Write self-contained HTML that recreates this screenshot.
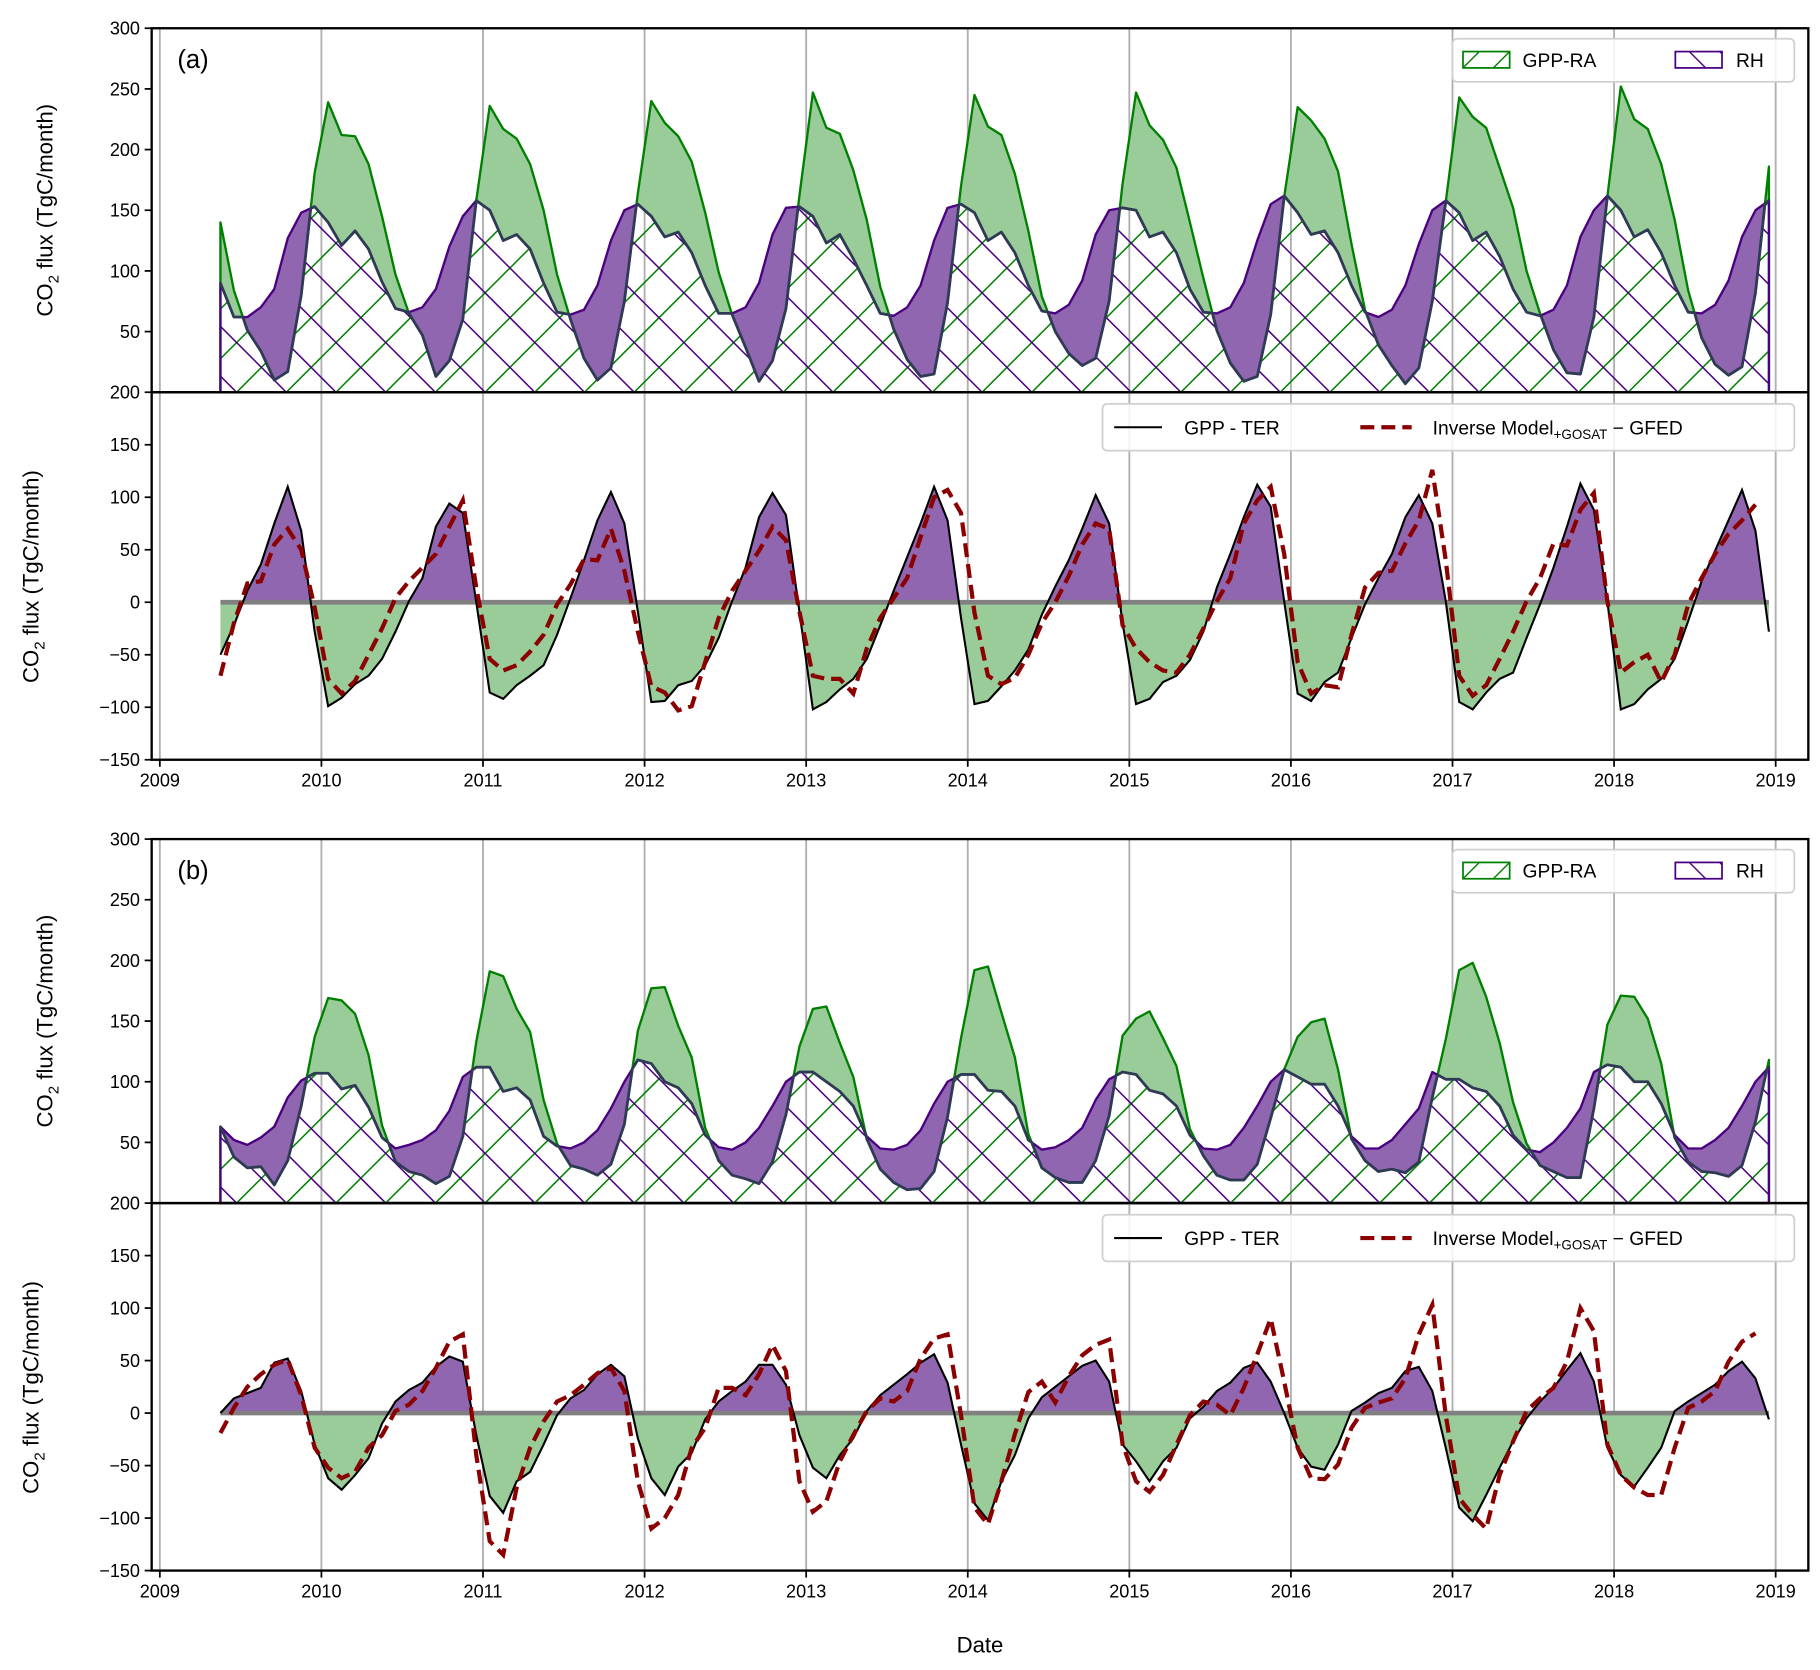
<!DOCTYPE html>
<html><head><meta charset="utf-8"><style>
html,body{margin:0;padding:0;background:#fff;}
svg{display:block;font-family:"Liberation Sans",Arial,sans-serif;}
</style></head><body>
<svg id="fig" width="1820" height="1670" viewBox="0 0 1560 1431" xmlns="http://www.w3.org/2000/svg">
<rect x="0" y="0" width="1560" height="1431" fill="#fff"/>
<defs id="defs"></defs>
<g id="root"></g>
</svg>
<script>
// ---- data (monthly, May 2009 .. Dec 2018) ----
const yearTicks = [2009,2010,2011,2012,2013,2014,2015,2016,2017,2018,2019];
const topTicks = [50,100,150,200,250,300];
const lowTicks = [-150,-100,-50,0,50,100,150,200];
const rhA = [90,62,62,70,85,127,148,153,
140,121,133,118,91,69,66,70,85,120,145,158,
150,125,130,118,90,66,64,68,88,125,150,155,
145,128,132,115,88,65,65,70,90,130,152,153,
145,123,130,110,88,65,63,70,88,125,152,155,
148,125,132,115,88,67,65,72,92,130,150,152,
150,128,132,115,85,66,65,70,90,125,155,162,
148,130,133,115,88,66,62,68,88,122,150,158,
148,125,132,112,85,66,63,68,88,128,150,162,
150,128,134,115,88,66,65,72,92,128,150,158];
const netA = [-50,-22,11,36,75,110,68,-28,
-99,-91,-78,-70,-54,-28,1,23,72,94,85,0,
-86,-92,-79,-70,-60,-31,4,40,78,105,75,-9,
-95,-94,-79,-75,-60,-34,1,33,81,104,83,-9,
-102,-95,-83,-73,-54,-22,11,43,75,110,78,-15,
-97,-94,-80,-65,-45,-12,15,40,70,102,75,-20,
-97,-92,-76,-70,-55,-28,14,46,81,112,91,1,
-87,-94,-76,-67,-34,-2,23,46,81,102,75,1,
-95,-102,-86,-73,-67,-34,-2,33,72,113,88,1,
-102,-97,-83,-73,-54,-18,20,49,78,107,68,-28];
const invA = [-70,-20,18,20,55,70,50,-5,
-73,-87,-75,-50,-25,4,20,33,46,72,97,14,
-54,-65,-60,-47,-31,-2,17,41,40,70,30,-28,
-80,-86,-103,-99,-57,-15,11,30,49,72,59,-9,
-70,-73,-73,-87,-44,-15,4,23,62,100,107,85,
-10,-70,-78,-72,-50,-20,0,25,55,75,70,-22,
-44,-57,-65,-67,-50,-25,1,23,75,97,110,46,
-57,-87,-79,-81,-31,14,28,30,56,78,126,40,
-70,-89,-79,-54,-28,1,23,56,54,88,104,1,
-67,-57,-50,-76,-50,-2,23,46,65,78,93];
const rhB = [63,52,48,54,63,87,101,107,
107,94,97,79,54,45,48,52,60,76,104,112,
112,92,95,85,55,47,45,50,60,78,100,118,
115,100,95,82,56,46,44,50,62,80,100,108,
108,100,92,80,55,45,44,48,60,82,100,106,
106,93,92,80,52,44,46,52,62,85,102,108,
106,93,90,80,56,45,44,48,62,80,100,110,
104,98,98,80,55,45,45,52,65,78,108,102,
102,95,92,80,56,44,42,50,62,78,108,114,
112,100,100,82,56,45,45,52,62,80,100,112];
const netB = [0,14,19,24,48,52,21,-30,
-62,-73,-59,-43,-10,11,22,29,44,54,49,-21,
-79,-95,-65,-56,-30,-2,14,22,37,46,35,-24,
-62,-78,-51,-38,-6,11,21,30,46,46,27,-21,
-52,-62,-40,-24,2,17,27,37,48,56,29,-30,
-86,-102,-65,-40,-5,15,25,35,45,50,30,-30,
-46,-65,-46,-33,-5,6,21,29,43,48,30,0,
-33,-51,-54,-30,2,10,19,24,40,44,21,-33,
-90,-103,-78,-52,-27,-5,11,24,41,57,30,-33,
-59,-70,-52,-33,2,11,19,27,40,49,33,-6];
const invB = [-19,5,25,37,46,51,17,-33,
-52,-62,-56,-33,-21,2,8,21,43,68,75,-40,
-122,-135,-71,-33,-8,11,17,27,38,43,21,-65,
-110,-100,-78,-33,-14,24,24,17,37,65,40,-65,
-94,-84,-46,-21,2,14,11,21,52,71,75,-2,
-90,-106,-65,-20,20,30,10,35,55,65,70,-30,
-65,-75,-59,-30,-2,11,8,-2,24,56,90,30,
-33,-62,-63,-49,-14,5,10,14,33,75,103,-2,
-81,-97,-110,-59,-27,2,14,24,49,100,78,-30,
-59,-71,-78,-78,-33,5,11,21,49,68,76];

const NS = "http://www.w3.org/2000/svg";
const root = document.getElementById('root');
const defs = document.getElementById('defs');
const AX0 = 130, AX1 = 1550;
const GREEN = "#008000", PURPLE = "#4b0082", GFILL = "#99cc99", PFILL = "#9166b1";
function xs(t){ return 137 + (t - 2009) * 138.5; }
function tm(i){ return 2009 + (4 + i + 0.5) / 12; }
function el(tag, attrs, parent){
  const e = document.createElementNS(NS, tag);
  for (const k in attrs) e.setAttribute(k, attrs[k]);
  (parent || root).appendChild(e);
  return e;
}
function txt(s, x, y, size, anchor, parent){
  const t = el('text', {x:x, y:y, 'font-size':size, 'text-anchor':anchor||'middle', fill:'#000'}, parent);
  t.textContent = s; return t;
}
function pts(arr){ return arr.map(p => p[0].toFixed(2)+','+p[1].toFixed(2)).join(' '); }
function merged(ta, a, b){
  const out = [];
  for (let i = 0; i < a.length; i++){
    out.push([ta[i], a[i], b[i]]);
    if (i < a.length - 1){
      const d0 = a[i]-b[i], d1 = a[i+1]-b[i+1];
      if (d0*d1 < 0){
        const f = d0/(d0-d1);
        const t = ta[i] + f*(ta[i+1]-ta[i]);
        const v = a[i] + f*(a[i+1]-a[i]);
        out.push([t, v, v]);
      }
    }
  }
  return out;
}
function bandPoly(m, ys, upperFn, lowerFn){
  const up = m.map(p => [xs(p[0]), ys(upperFn(p))]);
  const lo = m.slice().reverse().map(p => [xs(p[0]), ys(lowerFn(p))]);
  return pts(up.concat(lo));
}
let clipId = 0;
function makeClip(pointsStr){
  const id = 'c' + (clipId++);
  const cp = el('clipPath', {id:id}, defs);
  el('polygon', {points:pointsStr}, cp);
  return id;
}
function hatch(g, clip, yb, yt, dir, color, x0, x1){
  const P = 42.6, H = yb - yt;
  const hg = el('g', {'clip-path':'url(#'+clip+')'}, g);
  for (let x = 202.8 - 40*P; x < x1 + H + P; x += P){
    if (x < x0 - H - P) continue;
    el('line', {x1:x, y1:yb, x2:x + dir*H, y2:yt, stroke:color, 'stroke-width':1.3}, hg);
  }
}
function yAxis(g, ticks, ys, skipZero){
  ticks.forEach(v => {
    if (skipZero && v === 0) return;
    const y = ys(v);
    el('line', {x1:AX0-6, y1:y, x2:AX0, y2:y, stroke:'#000', 'stroke-width':1.5}, g);
    txt((v < 0 ? '\u2212' + (-v) : String(v)), AX0-10, y+5.5, 15.5, 'end', g);
  });
}
function grid(g, yt, yb){
  yearTicks.forEach(yr => {
    el('line', {x1:xs(yr), y1:yt, x2:xs(yr), y2:yb, stroke:'#b0b0b0', 'stroke-width':1.6}, g);
  });
}
function frame(g, yt, yb){
  el('rect', {x:AX0, y:yt, width:AX1-AX0, height:yb-yt, fill:'none', stroke:'#000', 'stroke-width':2}, g);
}
function legendHatch(g, x, y, dir, color){
  const id = 'c' + (clipId++);
  const cp = el('clipPath', {id:id}, defs);
  el('rect', {x:x, y:y, width:40, height:14}, cp);
  const hg = el('g', {'clip-path':'url(#'+id+')'}, g);
  for (let k = -2; k < 4; k++){
    const xx = x + k*26;
    el('line', {x1:xx, y1:y+14, x2:xx + dir*40, y2:y-26, stroke:color, 'stroke-width':1.2}, hg);
  }
  el('rect', {x:x, y:y, width:40, height:14, fill:'none', stroke:color, 'stroke-width':1.5}, g);
}

function topPanel(name, yTop, yZero, rh, net){
  const g = el('g', {});
  
  
  const ys = v => yZero - v * 1.04;
  grid(g, yTop, yZero);
  const ta = rh.map((_, i) => tm(i));
  const gpp = rh.map((r, i) => r - net[i]);
  const x0 = xs(ta[0]), x1 = xs(ta[ta.length-1]);
  const gPoly = bandPoly(ta.map((t,i)=>[t,gpp[i],0]), ys, p=>p[1], p=>0);
  const rPoly = bandPoly(ta.map((t,i)=>[t,rh[i],0]), ys, p=>p[1], p=>0);
  const gh = el('g', {}, g);
  
  
  hatch(gh, makeClip(gPoly), yZero, yTop, 1, GREEN, x0, x1);
  const rhh = el('g', {}, g);
  
  
  hatch(rhh, makeClip(rPoly), yZero, yTop, -1, PURPLE, x0, x1);
  const m = merged(ta, gpp, rh);
  const gb = el('polygon', {points:bandPoly(m, ys, p=>Math.max(p[1],p[2]), p=>p[2]), fill:GFILL, stroke:'none'}, g);
  
  
  const pb = el('polygon', {points:bandPoly(m, ys, p=>Math.max(p[1],p[2]), p=>p[1]), fill:PFILL, stroke:'none'}, g);
  
  
  const go = el('polygon', {points:gPoly, fill:'none', stroke:GREEN, 'stroke-width':2, 'stroke-linejoin':'round'}, g);
  
  
  const ro = el('polygon', {points:rPoly, fill:'none', stroke:PURPLE, 'stroke-width':2, 'stroke-linejoin':'round'}, g);
  
  
  const lowLine = el('polyline', {points:pts(m.map(p=>[xs(p[0]), ys(Math.min(p[1],p[2]))])), fill:'none', stroke:'#2f3a55', 'stroke-width':2.4, 'stroke-linejoin':'round'}, g);
  
  
  frame(g, yTop, yZero);
  yAxis(g, topTicks, ys, true);
  return g;
}

function lowPanel(name, yTop, yBot, yZero, net, inv){
  const g = el('g', {});
  
  
  const ys = v => yZero - v * 0.9;
  grid(g, yTop, yBot);
  const ta = net.map((_, i) => tm(i));
  const zero = net.map(() => 0);
  const m = merged(ta, net, zero);
  const gf = el('polygon', {points:bandPoly(m, ys, p=>0, p=>Math.min(p[1],0)), fill:GFILL}, g);
  
  
  const pf = el('polygon', {points:bandPoly(m, ys, p=>Math.max(p[1],0), p=>0), fill:PFILL}, g);
  
  
  const zl = el('line', {x1:xs(ta[0]), y1:ys(0), x2:xs(ta[ta.length-1]), y2:ys(0), stroke:'#808080', 'stroke-width':4}, g);
  
  
  const bl = el('polyline', {points:pts(net.map((v,i)=>[xs(ta[i]), ys(v)])), fill:'none', stroke:'#000', 'stroke-width':1.8}, g);
  
  
  const rl = el('polyline', {points:pts(inv.map((v,i)=>[xs(tm(i)), ys(v)])), fill:'none', stroke:'#8b0000', 'stroke-width':3.6, 'stroke-dasharray':'12 6'}, g);
  
  
  frame(g, yTop, yBot);
  yAxis(g, lowTicks, ys, false);
  yearTicks.forEach(yr => {
    el('line', {x1:xs(yr), y1:yBot, x2:xs(yr), y2:yBot+6, stroke:'#000', 'stroke-width':1.5}, g);
    txt(String(yr), xs(yr), yBot+23, 15.5, 'middle', g);
  });
  return g;
}

function legends(off){
  const lg = el('g', {});
  
  
  el('rect', {x:1245, y:33+off, width:293, height:37, rx:4, fill:'#fff', 'fill-opacity':0.85, stroke:'#d0d0d0', 'stroke-width':1.5}, lg);
  legendHatch(lg, 1254, 44+off, 1, GREEN);
  txt('GPP-RA', 1305, 57+off, 16.5, 'start', lg);
  legendHatch(lg, 1436, 44+off, -1, PURPLE);
  txt('RH', 1488, 57+off, 16.5, 'start', lg);
  const lg2 = el('g', {});
  
  
  el('rect', {x:945, y:346+off, width:593, height:40, rx:4, fill:'#fff', 'fill-opacity':0.85, stroke:'#d0d0d0', 'stroke-width':1.5}, lg2);
  el('line', {x1:955, y1:366+off, x2:996, y2:366+off, stroke:'#000', 'stroke-width':1.8}, lg2);
  txt('GPP - TER', 1015, 372+off, 16.5, 'start', lg2);
  el('line', {x1:1166, y1:366+off, x2:1210, y2:366+off, stroke:'#8b0000', 'stroke-width':3.6, 'stroke-dasharray':'12 6'}, lg2);
  const t = el('text', {x:1228, y:372+off, 'font-size':16.5, fill:'#000'}, lg2);
  const s1 = el('tspan', {}, t); s1.textContent = 'Inverse Model';
  const s2 = el('tspan', {'font-size':11.5, dy:4}, t); s2.textContent = '+GOSAT';
  const s3 = el('tspan', {dy:-4}, t); s3.textContent = ' \u2212 GFED';
}

topPanel('panel-a', 24, 336, rhA, netA);
lowPanel('panel-a', 336, 651, 516, netA, invA);
topPanel('panel-b', 719, 1031, rhB, netB);
lowPanel('panel-b', 1031, 1346, 1211, netB, invB);
legends(0);
legends(695);

const la = txt('(a)', 152, 58, 22, 'start');


const lb = txt('(b)', 152, 753, 22, 'start');



function ylab(x, y, name){
  const t = el('text', {x:0, y:0, 'font-size':19, 'text-anchor':'middle', transform:'translate('+x+','+y+') rotate(-90)', fill:'#000'});
  
  
  const a = el('tspan', {}, t); a.textContent = 'CO';
  const b = el('tspan', {'font-size':13, dy:5}, t); b.textContent = '2';
  const c = el('tspan', {dy:-5}, t); c.textContent = ' flux (TgC/month)';
}
ylab(45, 180, 'panel-a-top-y-axis-title');
ylab(33, 494, 'panel-a-bottom-y-axis-title');
ylab(45, 875, 'panel-b-top-y-axis-title');
ylab(33, 1189, 'panel-b-bottom-y-axis-title');
const dl = txt('Date', 840, 1416, 19, 'middle');


</script>
</body></html>
